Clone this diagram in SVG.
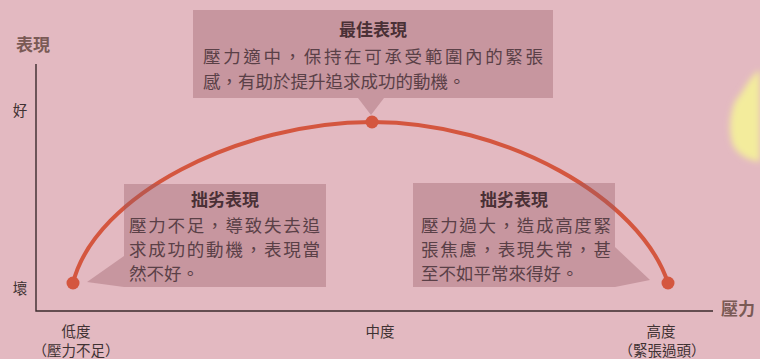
<svg xmlns="http://www.w3.org/2000/svg" width="760" height="359" viewBox="0 0 760 359">
  <defs>
    <filter id="blur" x="-50%" y="-50%" width="200%" height="200%">
      <feGaussianBlur stdDeviation="3"/>
    </filter>
    <style>
      text { font-family: "Noto Sans CJK TC", "Noto Sans CJK SC", sans-serif; }
      .box { fill: #965a64; fill-opacity: 0.36; }
      .title { font-size: 17px; font-weight: bold; fill: #4a3036; text-anchor: middle; }
      .body { font-size: 17.5px; fill: #5a4047; }
      .axis { stroke: #3b2b2d; stroke-width: 1.4; fill: none; }
      .axislabel { font-size: 17px; font-weight: bold; fill: #7a5a55; }
      .tick { font-size: 14.5px; fill: #3f3233; text-anchor: middle; }
      .curve { stroke: #d4563f; stroke-width: 4; fill: none; stroke-linecap: round; }
      .dot { fill: #d4563f; }
    </style>
  </defs>

  <!-- background -->
  <rect x="0" y="0" width="760" height="359" fill="#e3b9c1"/>
  <path d="M760,70 C748,78 744,92 736,100 C730,112 728,130 733,145 C740,158 752,160 760,162 Z" fill="#f3ec9c" filter="url(#blur)"/>

  <!-- axes -->
  <g id="axes">
    <path class="axis" d="M36,64 L36,311 L713,311"/>
    <text class="axislabel" x="16" y="51">表現</text>
    <text class="axislabel" x="721" y="315">壓力</text>
    <text class="tick" x="20" y="116">好</text>
    <text class="tick" x="20" y="294">壞</text>
    <text class="tick" x="76" y="337">低度</text>
    <text class="tick" x="76" y="356">（壓力不足）</text>
    <text class="tick" x="380" y="337">中度</text>
    <text class="tick" x="661" y="337">高度</text>
    <text class="tick" x="662" y="356">（緊張過頭）</text>
  </g>

  <!-- connectors: the curve -->
  <g id="connectors">
    <path class="curve" d="M73,283 C95,195 240,122 372,122 C505,122 640,198 668,283"/>
  </g>

  <!-- points -->
  <g id="point-low"><circle class="dot" cx="73" cy="283" r="6.5"/></g>
  <g id="point-peak"><circle class="dot" cx="372" cy="122" r="6.5"/></g>
  <g id="point-high"><circle class="dot" cx="668" cy="283" r="6.5"/></g>

  <!-- top callout -->
  <g id="box-best">
    <path class="box" d="M193,10 H553 V98 H384 L371,115 L358,98 H193 Z"/>
    <text class="title" x="373" y="36">最佳表現</text>
    <text class="body" x="203" y="63" textLength="340" lengthAdjust="spacing">壓力適中，保持在可承受範圍內的緊張</text>
    <text class="body" x="203" y="88">感，有助於提升追求成功的動機。</text>
  </g>

  <!-- left callout -->
  <g id="box-low">
    <path class="box" d="M124,184 H326 V287 H124 L87,282 L124,256 Z"/>
    <text class="title" x="225" y="206">拙劣表現</text>
    <text class="body" x="129" y="232" textLength="191" lengthAdjust="spacing">壓力不足，導致失去追</text>
    <text class="body" x="129" y="256" textLength="191" lengthAdjust="spacing">求成功的動機，表現當</text>
    <text class="body" x="129" y="280">然不好。</text>
  </g>

  <!-- right callout -->
  <g id="box-high">
    <path class="box" d="M413,183 H615 V247 L650,280 L615,287 H413 Z"/>
    <text class="title" x="514" y="206">拙劣表現</text>
    <text class="body" x="421" y="232" textLength="190" lengthAdjust="spacing">壓力過大，造成高度緊</text>
    <text class="body" x="421" y="256" textLength="190" lengthAdjust="spacing">張焦慮，表現失常，甚</text>
    <text class="body" x="421" y="280">至不如平常來得好。</text>
  </g>
</svg>
